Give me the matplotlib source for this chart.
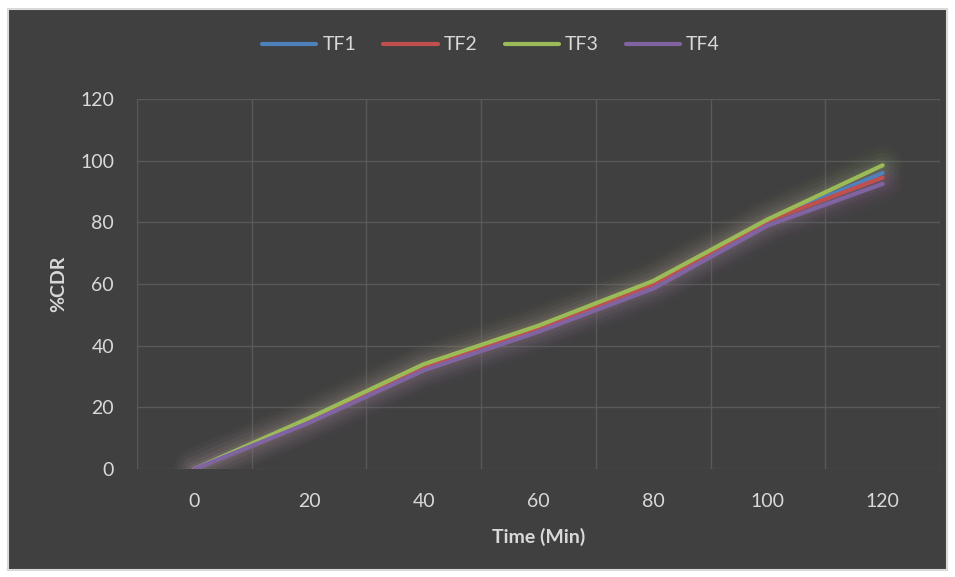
import matplotlib
import matplotlib.pyplot as plt
from matplotlib.patches import Rectangle

matplotlib.use("Agg")

# Release data
time_min = [0, 20, 40, 60, 80, 100, 120]
tf1 = [0, 16.0, 33.0, 45.5, 60.0, 80.5, 96.0]
tf2 = [0, 15.8, 33.0, 45.5, 60.0, 80.5, 94.5]
tf3 = [0, 16.5, 34.0, 46.5, 61.0, 81.0, 98.5]
tf4 = [0, 15.0, 32.0, 44.5, 58.5, 79.0, 92.5]
series = {"TF1": tf1, "TF2": tf2, "TF3": tf3, "TF4": tf4}
colors = {"TF1": "#4f81bd", "TF2": "#c0504d", "TF3": "#9bbb59", "TF4": "#8064a2"}
y_ticks = [0, 20, 40, 60, 80, 100, 120]

bg = "#404040"
grid_c = "#595959"
text_c = "#d9d9d9"
plt.rcParams["font.family"] = ["Lato", "DejaVu Sans"]

fig = plt.figure(figsize=(9.55, 5.77), dpi=100, facecolor="white")
W, H = 955, 577
fig.patches.append(Rectangle((8 / W, 1 - 570 / H), 939 / W, 561 / H,
                             transform=fig.transFigure, facecolor=bg,
                             edgecolor="#d9d9d9", linewidth=1.5, zorder=-5))

ax = fig.add_axes([137 / W, 1 - 469 / H, 803 / W, 370 / H])
ax.set_facecolor(bg)
for s in ax.spines.values():
    s.set_visible(False)

# category-style axis: x positions at category centres, grid between them
pos = list(range(len(time_min)))
ax.set_xlim(-0.5, len(time_min) - 0.5)
ax.set_ylim(0, 120)
for b in range(len(time_min) + 1):
    ax.axvline(b - 0.5, color=grid_c, lw=1, zorder=1)
for t in y_ticks:
    ax.axhline(t, color=grid_c, lw=1, zorder=1)

# soft glow under each line
for name, vals in series.items():
    for w, a in [(30, 0.025), (24, 0.035), (18, 0.045), (12, 0.06), (7, 0.08)]:
        ax.plot(pos, vals, color=colors[name], lw=w, alpha=a,
                solid_capstyle="round", solid_joinstyle="round", zorder=2)
for name, vals in series.items():
    ax.plot(pos, vals, color=colors[name], lw=3, label=name,
            solid_capstyle="round", solid_joinstyle="round", zorder=3)

ax.set_xticks(pos)
ax.set_xticklabels([str(t) for t in time_min])
ax.set_yticks(y_ticks)
ax.tick_params(axis="both", length=0, colors=text_c, labelsize=14)
ax.tick_params(axis="x", pad=17.5)
ax.tick_params(axis="y", pad=16.5)
ax.set_xlabel("Time (Min)", color=text_c, fontsize=14, fontweight="bold")
ax.set_ylabel("%CDR", color=text_c, fontsize=14, fontweight="bold")
ax.xaxis.set_label_coords(0.5, -0.184)
ax.yaxis.set_label_coords(-0.098, 0.5)
ax.xaxis.label.set_va("center")
ax.yaxis.label.set_va("center")

leg = fig.legend(*ax.get_legend_handles_labels(), loc="center",
                 bbox_to_anchor=(491 / W, 1 - 45 / H), ncol=4, frameon=False,
                 fontsize=14, handlelength=2.8, handletextpad=0.3, columnspacing=1.4)
for t in leg.get_texts():
    t.set_color(text_c)

fig.savefig("out.png", dpi=100, facecolor="white")
plt.close(fig)
